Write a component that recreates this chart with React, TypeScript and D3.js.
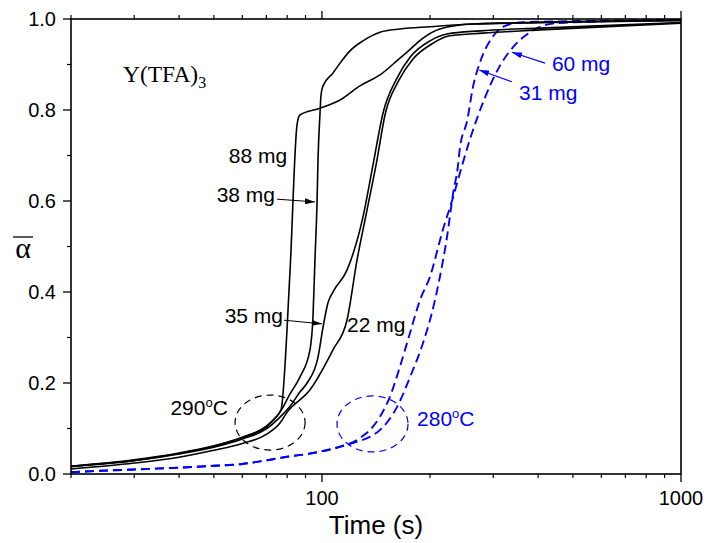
import React from 'react';
import * as d3 from 'd3';

// ---------- data ----------
const yMajorTicks = [0, 0.2, 0.4, 0.6, 0.8, 1.0];
const yMinorTicks = [0.1, 0.3, 0.5, 0.7, 0.9];
const xMajorTicks = [100, 1000];
const xMinorTicks = [20, 30, 40, 50, 60, 70, 80, 90, 200, 300, 400, 500, 600, 700, 800, 900];

// 290 C, black solid
const t88 = [20, 30, 40, 50, 60, 70, 74, 76.9, 81.5, 85.2, 86.8, 98.7, 112.3, 127.6, 145.1, 164.9, 172.5, 191.2, 213, 263, 405, 1000];
const a88 = [0.017, 0.031, 0.046, 0.062, 0.081, 0.105, 0.123, 0.141, 0.448, 0.767, 0.789, 0.804, 0.822, 0.853, 0.877, 0.914, 0.927, 0.958, 0.978, 0.989, 0.992, 0.997];

const t38 = [20, 30, 40, 50, 60, 70, 76.4, 81.5, 86.8, 92.6, 94.4, 95.6, 96.9, 97.5, 98.7, 99.4, 100.7, 107.3, 112.3, 119.7, 130.1, 145.1, 164.9, 200, 263, 1000];
const a38 = [0.017, 0.030, 0.045, 0.061, 0.080, 0.103, 0.136, 0.176, 0.213, 0.273, 0.345, 0.470, 0.598, 0.690, 0.789, 0.833, 0.853, 0.881, 0.903, 0.930, 0.952, 0.971, 0.978, 0.983, 0.989, 0.997];

const t35 = [20, 30, 40, 50, 60, 70, 76.4, 81.5, 86.8, 90.9, 97.5, 100.7, 103.9, 107.3, 117.4, 130.1, 138.7, 147.9, 161.8, 175.9, 200, 223, 276, 405, 1000];
const a35 = [0.016, 0.029, 0.044, 0.059, 0.077, 0.099, 0.125, 0.149, 0.180, 0.200, 0.257, 0.323, 0.376, 0.400, 0.448, 0.565, 0.679, 0.793, 0.870, 0.916, 0.952, 0.967, 0.974, 0.980, 0.992];

const t22 = [20, 30, 40, 50, 60, 70, 76.4, 80, 92.6, 107.3, 117.4, 125.2, 133.5, 142.3, 149.8, 164, 179.3, 204, 227, 281, 405, 1000];
const a22 = [0.011, 0.024, 0.037, 0.052, 0.067, 0.087, 0.112, 0.136, 0.185, 0.273, 0.338, 0.470, 0.580, 0.690, 0.789, 0.866, 0.912, 0.947, 0.963, 0.969, 0.976, 0.991];

// 280 C, blue dashed
const t31 = [20, 24.1, 30, 40, 50, 60, 70, 80, 92.6, 114.5, 122, 147.9, 161.8, 175.9, 191.2, 201, 213, 223, 232, 239, 242, 254, 263, 277, 296, 324, 363, 1000];
const a31 = [0.004, 0.007, 0.010, 0.014, 0.018, 0.022, 0.030, 0.038, 0.045, 0.062, 0.068, 0.103, 0.147, 0.213, 0.288, 0.345, 0.433, 0.521, 0.618, 0.675, 0.714, 0.778, 0.848, 0.910, 0.956, 0.985, 0.993, 0.998];

const t60 = [20, 24.1, 30, 40, 50, 60, 70, 80, 92.6, 114.5, 125.2, 145.1, 154.7, 164.9, 175.9, 187.5, 200, 217, 232, 246, 258, 285, 313, 345, 380, 452, 1000];
const a60 = [0.004, 0.007, 0.010, 0.014, 0.018, 0.022, 0.030, 0.038, 0.045, 0.062, 0.075, 0.126, 0.170, 0.236, 0.310, 0.382, 0.434, 0.536, 0.609, 0.680, 0.734, 0.829, 0.897, 0.943, 0.971, 0.991, 0.998];

const blackSeries = [
  { name: '88 mg', t: t88, a: a88 },
  { name: '38 mg', t: t38, a: a38 },
  { name: '35 mg', t: t35, a: a35 },
  { name: '22 mg', t: t22, a: a22 },
];
const blueSeries = [
  { name: '31 mg', t: t31, a: a31 },
  { name: '60 mg', t: t60, a: a60 },
];

// ---------- layout ----------
const W = 707;
const H = 543;
const PL = 71, PR = 681, PT = 19, PB = 474;
const BLUE = '#0000ff';
const SANS = '"Liberation Sans", Arial, sans-serif';
const SERIF = '"Liberation Serif", "Times New Roman", serif';

export default function App() {
  const x = d3.scaleLog().domain([20, 1000]).range([PL, PR]);
  const y = d3.scaleLinear().domain([0, 1]).range([PB, PT]);
  const line = d3
    .line<[number, number]>()
    .x((d) => x(d[0]))
    .y((d) => y(d[1]))
    .curve(d3.curveMonotoneX);
  const zip = (t: number[], a: number[]) => t.map((v, i) => [v, a[i]] as [number, number]);

  const annFont = 21;

  return (
    <svg
      width={W}
      height={H}
      viewBox={`0 0 ${W} ${H}`}
      style={{ position: 'absolute', left: 0, top: 0, background: '#fff' }}
    >
      <defs>
        <marker id="arrBlack" viewBox="0 0 10 6" refX="10" refY="3" markerWidth="10" markerHeight="6" markerUnits="userSpaceOnUse" orient="auto">
          <path d="M0,0 L10,3 L0,6 Z" fill="#000" />
        </marker>
        <marker id="arrBlue" viewBox="0 0 10 6" refX="10" refY="3" markerWidth="10" markerHeight="6" markerUnits="userSpaceOnUse" orient="auto">
          <path d="M0,0 L10,3 L0,6 Z" fill={BLUE} />
        </marker>
        <clipPath id="plotClip">
          <rect x={PL} y={PT - 2} width={PR - PL} height={PB - PT + 2} />
        </clipPath>
      </defs>
      <rect x={0} y={0} width={W} height={H} fill="#fff" />

      {/* curves */}
      <g clipPath="url(#plotClip)">
        {blueSeries.map((s) => (
          <path key={s.name} d={line(zip(s.t, s.a)) || ''} fill="none" stroke={BLUE} strokeWidth={1.9} strokeDasharray="9,5" />
        ))}
        {blackSeries.map((s) => (
          <path key={s.name} d={line(zip(s.t, s.a)) || ''} fill="none" stroke="#000" strokeWidth={1.6} />
        ))}
      </g>

      {/* ellipses */}
      <ellipse cx={x(71.7)} cy={y(0.113)} rx={35} ry={27.5} fill="none" stroke="#000" strokeWidth={1.2} strokeDasharray="7,5" />
      <ellipse cx={x(138.3)} cy={y(0.110)} rx={35.5} ry={28} fill="none" stroke={BLUE} strokeWidth={1.2} strokeDasharray="7,5" />

      {/* frame */}
      <rect x={PL} y={PT} width={PR - PL} height={PB - PT} fill="none" stroke="#000" strokeWidth={1.6} />

      {/* x ticks bottom & top */}
      {xMajorTicks.map((v) => (
        <g key={'xM' + v}>
          <line x1={x(v)} x2={x(v)} y1={PB} y2={PB + 8} stroke="#000" strokeWidth={1.3} />
          <line x1={x(v)} x2={x(v)} y1={PT} y2={PT - 8} stroke="#000" strokeWidth={1.3} />
          <text x={x(v)} y={505} textAnchor="middle" fontFamily={SANS} fontSize={20}>{v}</text>
        </g>
      ))}
      {xMinorTicks.map((v) => (
        <g key={'xm' + v}>
          <line x1={x(v)} x2={x(v)} y1={PB} y2={PB + 4} stroke="#000" strokeWidth={1.2} />
          <line x1={x(v)} x2={x(v)} y1={PT} y2={PT - 4} stroke="#000" strokeWidth={1.2} />
        </g>
      ))}

      {/* y ticks */}
      {yMajorTicks.map((v) => (
        <g key={'yM' + v}>
          <line x1={PL} x2={PL - 8} y1={y(v)} y2={y(v)} stroke="#000" strokeWidth={1.3} />
          <text x={PL - 15} y={y(v)} dy="0.36em" textAnchor="end" fontFamily={SANS} fontSize={20}>{v.toFixed(1)}</text>
        </g>
      ))}
      {yMinorTicks.map((v) => (
        <line key={'ym' + v} x1={PL} x2={PL - 4} y1={y(v)} y2={y(v)} stroke="#000" strokeWidth={1.2} />
      ))}

      {/* axis titles */}
      <text x={376} y={534} textAnchor="middle" fontFamily={SANS} fontSize={26}>Time (s)</text>
      <line x1={13} x2={33} y1={237} y2={237} stroke="#000" strokeWidth={1.3} />
      <text x={23} y={258} textAnchor="middle" fontFamily={SERIF} fontSize={30}>α</text>

      {/* title label */}
      <text x={x(27.9)} y={y(0.862)} fontFamily={SERIF} fontSize={23.5}>
        Y(TFA)<tspan fontSize={16} dy={6}>3</tspan>
      </text>

      {/* black annotations */}
      <text x={x(80)} y={y(0.684)} textAnchor="end" fontFamily={SANS} fontSize={annFont}>88 mg</text>
      <text x={x(74)} y={y(0.598)} textAnchor="end" fontFamily={SANS} fontSize={annFont}>38 mg</text>
      <line x1={x(75)} y1={y(0.604)} x2={x(95.6)} y2={y(0.598)} stroke="#000" strokeWidth={1} markerEnd="url(#arrBlack)" />
      <text x={x(77.9)} y={y(0.332)} textAnchor="end" fontFamily={SANS} fontSize={annFont}>35 mg</text>
      <line x1={x(78.4)} y1={y(0.338)} x2={x(100)} y2={y(0.330)} stroke="#000" strokeWidth={1} markerEnd="url(#arrBlack)" />
      <text x={x(117.4)} y={y(0.312)} fontFamily={SANS} fontSize={annFont}>22 mg</text>
      <text x={x(54.7)} y={y(0.13)} textAnchor="end" fontFamily={SANS} fontSize={annFont}>
        290<tspan fontSize={13} dy={-8}>o</tspan><tspan dy={8}>C</tspan>
      </text>

      {/* blue annotations */}
      <text x={x(184)} y={y(0.105)} fontFamily={SANS} fontSize={annFont} fill={BLUE}>
        280<tspan fontSize={13} dy={-8}>o</tspan><tspan dy={8}>C</tspan>
      </text>
      <text x={x(437)} y={y(0.886)} fontFamily={SANS} fontSize={annFont} fill={BLUE}>60 mg</text>
      <line x1={x(418)} y1={y(0.903)} x2={x(338)} y2={y(0.927)} stroke={BLUE} strokeWidth={1.2} markerEnd="url(#arrBlue)" />
      <text x={x(354)} y={y(0.822)} fontFamily={SANS} fontSize={annFont} fill={BLUE}>31 mg</text>
      <line x1={x(338)} y1={y(0.862)} x2={x(274)} y2={y(0.888)} stroke={BLUE} strokeWidth={1.2} markerEnd="url(#arrBlue)" />
    </svg>
  );
}
